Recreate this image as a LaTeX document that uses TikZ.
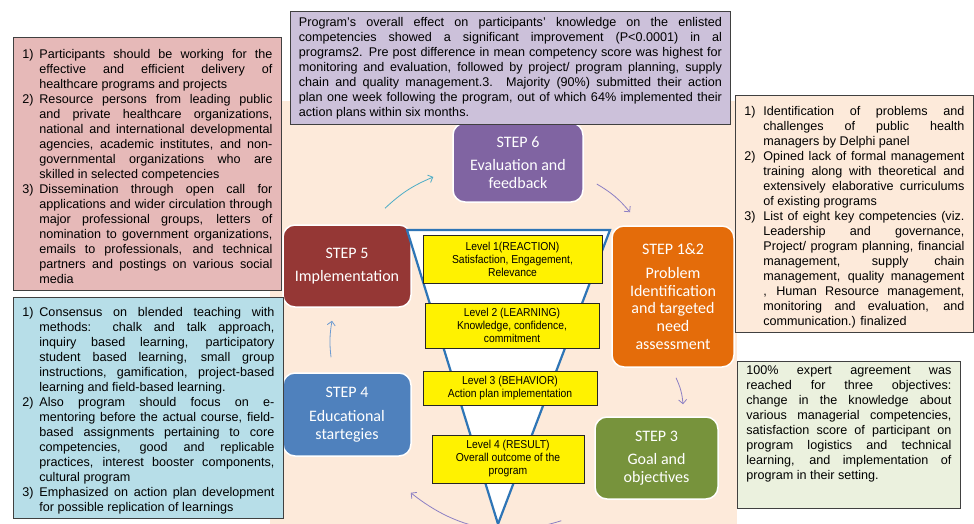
\documentclass[tikz,border=0pt]{standalone}
\usepackage{fontspec}
\setmainfont{Liberation Sans}
\newfontfamily\stepfont{Carlito}
\newfontfamily\levelfont[FakeStretch=0.9]{Liberation Sans}
\usetikzlibrary{positioning,arrows.meta}

\definecolor{peach}{HTML}{FDEADA}
\definecolor{rose}{HTML}{E6B9B8}
\definecolor{aqua}{HTML}{B7DEE8}
\definecolor{lilac}{HTML}{CCC1DA}
\definecolor{sage}{HTML}{EBF1DE}
\definecolor{edgegray}{HTML}{404040}
\definecolor{stepsix}{HTML}{8064A2}
\definecolor{stepfive}{HTML}{953735}
\definecolor{steponetwo}{HTML}{E46C0A}
\definecolor{stepfour}{HTML}{4F81BD}
\definecolor{stepthree}{HTML}{77933C}
\definecolor{funnel}{HTML}{2E75B6}
\definecolor{tealarr}{HTML}{4BACC6}
\definecolor{violetarr}{HTML}{8C7FC4}
\definecolor{bluearr}{HTML}{6D9BD1}

\newcommand\itm[3][17pt]{\par\hangindent=#1\hangafter=1\noindent\makebox[#1][l]{#2}#3\par}

\begin{document}
\begin{tikzpicture}[
  x=1pt, y=-1pt,
  >={Straight Barb[length=4pt,width=8pt]},
  every node/.style={align=center},
  note/.style={draw=edgegray, line width=0.8pt, anchor=north west, inner xsep=9pt, inner ysep=4pt,
    align=justify, font=\fontsize{12.6}{15}\selectfont},
  stepbox/.style={draw=white, line width=1.5pt, rounded corners=12pt, text=white,
    font=\stepfont\fontsize{16}{17.7}\selectfont},
  level/.style={draw=black!85, line width=0.8pt, fill=yellow, inner sep=1pt,
    font=\levelfont\fontsize{11.5}{13}\selectfont},
  looparrow/.style={->, line width=0.8pt}
]
\useasboundingbox (0,0) rectangle (974,524);
\fill[peach] (270,101) rectangle (737,524);

\node[stepbox, fill=stepsix, minimum width=130pt, minimum height=79pt] (step6) at (518,162.5)
  {STEP 6\\[6pt]Evaluation and\\feedback};
\node[stepbox, fill=steponetwo, minimum width=122pt, minimum height=141pt] (step12) at (673,296.5)
  {STEP 1\&2\\[6pt]Problem\\Identification\\and targeted\\need\\assessment};
\node[stepbox, fill=stepthree, minimum width=123pt, minimum height=82pt] (step3) at (656.5,458)
  {STEP 3\\[6pt]Goal and\\objectives};
\node[stepbox, fill=stepfour, minimum width=128pt, minimum height=83pt] (step4) at (347,414.5)
  {STEP 4\\[6pt]Educational\\startegies};
\node[stepbox, fill=stepfive, minimum width=128pt, minimum height=82pt] (step5) at (347,266)
  {STEP 5\\[6pt]Implementation};

\draw[funnel, line width=2.2pt, fill=white, line join=miter] (407,230) -- (610,230) -- (498,524) -- cycle;

\node[level, minimum width=179pt, minimum height=48pt] (lv1) at (512.5,259)
  {Level 1(REACTION)\\Satisfaction, Engagement,\\Relevance};
\node[level, minimum width=174pt, minimum height=45pt] (lv2) at (512,325.5)
  {Level 2 (LEARNING)\\Knowledge, confidence,\\commitment};
\node[level, minimum width=174pt, minimum height=34pt] (lv3) at (510,388)
  {Level 3 (BEHAVIOR)\\Action plan implementation};
\node[level, minimum width=152pt, minimum height=48pt] (lv4) at (508,459)
  {Level 4 (RESULT)\\Overall outcome of the\\program};

\draw[looparrow, tealarr] ([xshift=38pt,yshift=16pt]step5.north) to[bend left=10] ([xshift=-19pt,yshift=-14.5pt]step6.west);
\draw[looparrow, violetarr] ([xshift=13pt,yshift=-21.5pt]step6.east) to[bend left=10] ([xshift=-43pt,yshift=13pt]step12.north);
\draw[looparrow, violetarr] ([xshift=3pt,yshift=-10pt]step12.south) to[bend left=10] ([xshift=26.5pt,yshift=12pt]step3.north);
\draw[looparrow, violetarr] ([xshift=-33pt,yshift=-21pt]step3.south west) to[bend left=28] ([xshift=-1pt,yshift=-36pt]step4.south east);
\draw[looparrow, bluearr] ([xshift=-16pt,yshift=15pt]step4.north) to[bend left=8] ([xshift=-15pt,yshift=-13pt]step5.south);

\node[note, fill=rose, text width=250pt, minimum height=253pt] (recruit) at (13,37) {%
\itm{1)}{Participants should be working for the\linebreak effective and efficient delivery of\linebreak healthcare programs and projects}
\itm{2)}{Resource persons from leading public\linebreak and private healthcare organizations,\linebreak national and international developmental\linebreak agencies, academic institutes, and non-\linebreak governmental organizations who are\linebreak skilled in selected competencies}
\itm{3)}{Dissemination through open call for\linebreak applications and wider circulation through\linebreak major professional groups, letters of\linebreak nomination to government organizations,\linebreak emails to professionals, and technical\linebreak partners and postings on various social\linebreak media}};

\node[note, fill=aqua, text width=252pt, minimum height=216pt] (teaching) at (13,297) {%
\itm{1)}{Consensus on blended teaching with\linebreak methods: chalk and talk approach,\linebreak inquiry based learning, participatory\linebreak student based learning, small group\linebreak instructions, gamification, project-based\linebreak learning and field-based learning.}
\itm{2)}{Also program should focus on e-\linebreak mentoring before the actual course, field-\linebreak based assignments pertaining to core\linebreak competencies, good and replicable\linebreak practices, interest booster components,\linebreak cultural program}
\itm{3)}{Emphasized on action plan development\linebreak for possible replication of learnings}};

\node[note, fill=lilac, inner xsep=8.5pt, text width=423pt, minimum height=113pt] (effect) at (290,11) {%
Program's overall effect on participants' knowledge on the enlisted\linebreak competencies showed a significant improvement (P<0.0001) in al\linebreak programs2. Pre post difference in mean competency score was highest for\linebreak monitoring and evaluation, followed by project/ program planning, supply\linebreak chain and quality management.3. Majority (90\%) submitted their action\linebreak plan one week following the program, out of which 64\% implemented their\linebreak action plans within six months.};

\node[note, fill=peach, text width=220pt, minimum height=237pt] (delphi) at (735,95) {%
\itm[19pt]{1)}{Identification of problems and\linebreak challenges of public health\linebreak managers by Delphi panel}
\itm[19pt]{2)}{Opined lack of formal management\linebreak training along with theoretical and\linebreak extensively elaborative curriculums\linebreak of existing programs}
\itm[19pt]{3)}{List of eight key competencies (viz.\linebreak Leadership and governance,\linebreak Project/ program planning, financial\linebreak management, supply chain\linebreak management, quality management\linebreak , Human Resource management,\linebreak monitoring and evaluation, and\linebreak communication.) finalized}};

\node[note, fill=sage, text width=205pt] (agreement) at (737,361) {%
100\% expert agreement was\linebreak reached for three objectives:\linebreak change in the knowledge about\linebreak various managerial competencies,\linebreak satisfaction score of participant on\linebreak program logistics and technical\linebreak learning, and implementation of\linebreak program in their setting.\par\vskip 10pt\hbox{}};
\end{tikzpicture}
\end{document}
